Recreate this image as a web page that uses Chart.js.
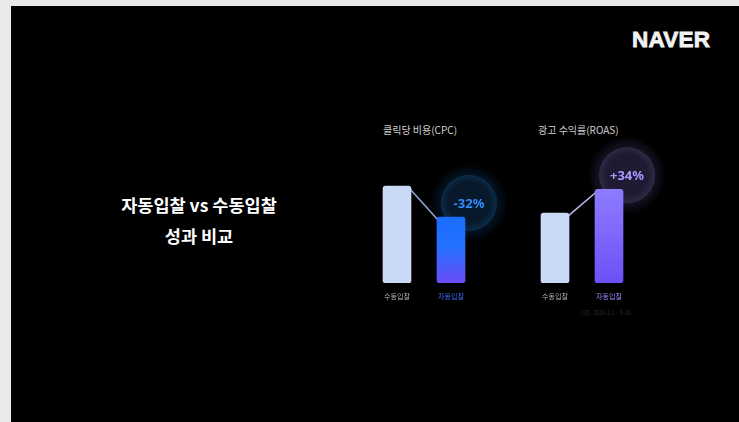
<!DOCTYPE html>
<html>
<head>
<meta charset="utf-8">
<script src="https://cdn.jsdelivr.net/npm/chart.js@4"></script>
<style>
  html,body{margin:0;padding:0;}
  body{width:739px;height:422px;background:#e9e9e9;position:relative;overflow:hidden;
       font-family:"Noto Sans CJK KR","Noto Sans",sans-serif;}
  #slide{position:absolute;left:11px;top:6px;right:0;bottom:0;background:#000;}
  .abs{position:absolute;white-space:nowrap;}
  #logo{left:632px;top:27px;font-family:"Liberation Sans",Arial,sans-serif;font-weight:700;
        font-size:22.5px;color:#f2f2f2;letter-spacing:0.2px;-webkit-text-stroke:0.8px #f2f2f2;}
  #heading{left:99px;width:200px;top:189px;text-align:center;color:#fff;font-weight:700;
           font-size:17.5px;line-height:31px;}
  .ctitle{color:#cfcfcf;font-size:10px;top:122px;}
  #note{left:580px;top:309px;font-size:5.5px;color:#2c2c2c;}
  canvas{position:absolute;}
</style>
</head>
<body>
<div id="slide"></div>
<div id="logo" class="abs">NAVER</div>
<div id="heading" class="abs">자동입찰 vs 수동입찰<br>성과 비교</div>
<div class="abs ctitle" style="left:383px">클릭당 비용(CPC)</div>
<div class="abs ctitle" style="left:538px">광고 수익률(ROAS)</div>
<div id="note" class="abs">기준: 2024.3.1 ~ 9.30</div>
<div style="position:absolute;left:370px;top:120px;width:150px;height:183px"><canvas id="cpc"></canvas></div>
<div style="position:absolute;left:528px;top:120px;width:150px;height:183px"><canvas id="roas"></canvas></div>
<script>
// ---- data ----
const categories = ["수동입찰", "자동입찰"];
const cpcValues = [100, 68];
const roasValues = [100, 134];
const changeLabels = ["-32%", "+34%"];
const cpcMax = 168;
const roasMax = 233;

const themes = [
  {tick2:"#3f6dff", top:"#1a6eff", mid:"#2470ff", bottom:"#6a4cf5", line:"#8ea6d6",
   bubIn:"#08192b", bubRim:"#0c2b47", glow:"rgba(8,55,100,", text:"#2f8dff"},
  {tick2:"#9d8cff", top:"#8d7cff", mid:"#7f68fc", bottom:"#6c4ff7", line:"#b9b7e8",
   bubIn:"#1f1a31", bubRim:"#2f2946", glow:"rgba(60,52,95,", text:"#a898ff"}
];

function makeChart(id, values, max, idx){
  const th = themes[idx];
  const deco = {
    id:"deco"+idx,
    beforeDatasetsDraw(chart){
      const c = chart.ctx;
      const bars = chart.getDatasetMeta(0).data;
      const b1 = bars[0], b2 = bars[1];
      // bubble
      const cx = b2.x + 18, cy = b2.y - 14, r = 28;
      const g = c.createRadialGradient(cx, cy, r*0.7, cx, cy, r*1.4);
      g.addColorStop(0, th.glow + "0.6)");
      g.addColorStop(1, th.glow + "0)");
      c.save();
      c.fillStyle = g;
      c.beginPath(); c.arc(cx, cy, r*1.4, 0, Math.PI*2); c.fill();
      const g2 = c.createRadialGradient(cx, cy - 3, 2, cx, cy, r);
      g2.addColorStop(0, th.bubIn);
      g2.addColorStop(0.7, th.bubIn);
      g2.addColorStop(1, th.bubRim);
      c.fillStyle = g2;
      c.beginPath(); c.arc(cx, cy, r, 0, Math.PI*2); c.fill();
      c.fillStyle = th.text;
      c.font = "bold 13px 'Noto Sans','Noto Sans CJK KR',sans-serif";
      c.textAlign = "center"; c.textBaseline = "middle";
      c.fillText(changeLabels[idx], cx, cy + 1);
      // connector
      c.strokeStyle = th.line; c.lineWidth = 1.6;
      c.beginPath();
      c.moveTo(b1.x + b1.width/2 - 1, b1.y + 3);
      c.lineTo(b2.x - b2.width/2 + 1, b2.y + 3);
      c.stroke();
      c.restore();
    }
  };
  return new Chart(document.getElementById(id), {
    type:"bar",
    data:{labels:categories, datasets:[{
      data:values,
      backgroundColor(ctx){
        if (ctx.dataIndex === 0) return "#cad9f6";
        const a = ctx.chart.chartArea;
        const ys = ctx.chart.scales.y;
        if (!a || !ys) return th.top;
        const top = ys.getPixelForValue(values[1]);
        const gr = ctx.chart.ctx.createLinearGradient(0, top, 0, a.bottom);
        gr.addColorStop(0, th.top);
        gr.addColorStop(0.45, th.mid);
        gr.addColorStop(1, th.bottom);
        return gr;
      },
      barThickness:28,
      borderRadius:3,
      borderSkipped:false
    }]},
    options:{
      responsive:true, maintainAspectRatio:false, animation:false,
      layout:{padding:{left:0,right:42,top:0,bottom:0}},
      plugins:{legend:{display:false}, tooltip:{enabled:false}},
      scales:{
        y:{display:false, min:0, max:max},
        x:{
          grid:{display:false, drawTicks:false}, border:{display:false},
          afterFit(s){ s.height = 20; },
          ticks:{padding:9, color:["#b4b4b4", th.tick2],
                 font:{size:7, family:"'Noto Sans CJK KR',sans-serif"}}
        }
      }
    },
    plugins:[deco]
  });
}
makeChart("cpc", cpcValues, cpcMax, 0);
makeChart("roas", roasValues, roasMax, 1);
</script>
</body>
</html>
